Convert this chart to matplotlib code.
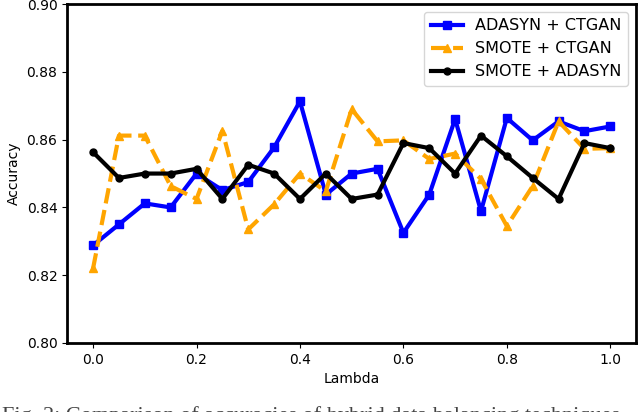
import matplotlib
matplotlib.use("Agg")
import matplotlib.pyplot as plt
import numpy as np

lambdas = [0.0, 0.05, 0.1, 0.15, 0.2, 0.25, 0.3, 0.35, 0.4, 0.45, 0.5,
           0.55, 0.6, 0.65, 0.7, 0.75, 0.8, 0.85, 0.9, 0.95, 1.0]
adasyn_ctgan = [0.8288, 0.835, 0.8412, 0.840, 0.850, 0.8451, 0.8475, 0.8577, 0.8713, 0.8438, 0.850,
                0.8514, 0.8325, 0.8438, 0.8661, 0.8389, 0.8664, 0.8598, 0.8654, 0.8625, 0.8639]
smote_ctgan = [0.822, 0.8612, 0.8612, 0.8463, 0.8425, 0.8626, 0.8335, 0.8409, 0.850, 0.8448, 0.869,
               0.8595, 0.8598, 0.8543, 0.8559, 0.8484, 0.8345, 0.8463, 0.8654, 0.8573, 0.8575]
smote_adasyn = [0.8563, 0.8487, 0.850, 0.850, 0.8514, 0.8425, 0.8526, 0.850, 0.8425, 0.850, 0.8425,
                0.8438, 0.859, 0.8575, 0.850, 0.8612, 0.8551, 0.8487, 0.8425, 0.859, 0.8575]
yticks = [0.80, 0.82, 0.84, 0.86, 0.88, 0.90]
xticks = [0.0, 0.2, 0.4, 0.6, 0.8, 1.0]

fig = plt.figure(figsize=(6.4, 4.12), dpi=100)
ax = fig.add_axes([0.105, 0.1675, 0.889, 0.8225])

ax.plot(lambdas, adasyn_ctgan, color="blue", marker="s", markersize=6, linewidth=3,
        label="ADASYN + CTGAN")
ax.plot(lambdas, smote_ctgan, color="orange", marker="^", markersize=6, linewidth=3,
        linestyle="--", label="SMOTE + CTGAN")
ax.plot(lambdas, smote_adasyn, color="black", marker="o", markersize=5, linewidth=3,
        label="SMOTE + ADASYN")

ax.set_ylim(0.80, 0.90)
ax.set_xlim(-0.05, 1.05)
ax.set_yticks(yticks)
ax.set_yticklabels([f"{v:.2f}" for v in yticks])
ax.set_xticks(xticks)
ax.set_xticklabels([f"{v:.1f}" for v in xticks])
ax.tick_params(labelsize=10)
for s in ax.spines.values():
    s.set_linewidth(2)
ax.set_xlabel("Lambda", fontsize=10)
ax.set_ylabel("Accuracy", fontsize=10)
ax.legend(loc="upper right", fontsize=11.5)

fig.text(0.003, 1 - 406 / 412, "Fig. 2: Comparison of accuracies of hybrid data balancing techniques",
         family="Liberation Serif", fontsize=16, va="top", ha="left", color="#444444")

fig.savefig("out.png", dpi=100)
